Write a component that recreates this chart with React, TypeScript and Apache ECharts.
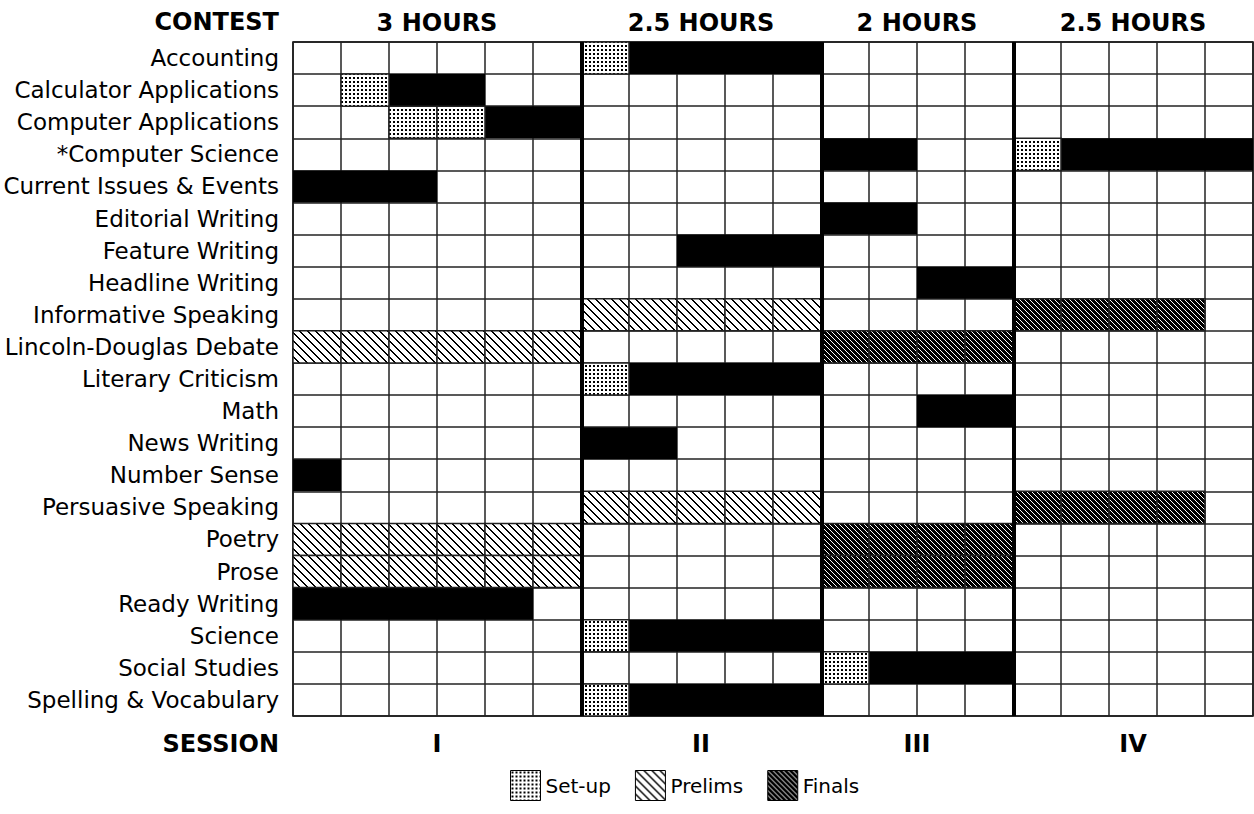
import React, { useEffect, useRef } from "react";
import * as echarts from "echarts";

const contests = [
  "Accounting",
  "Calculator Applications",
  "Computer Applications",
  "*Computer Science",
  "Current Issues & Events",
  "Editorial Writing",
  "Feature Writing",
  "Headline Writing",
  "Informative Speaking",
  "Lincoln-Douglas Debate",
  "Literary Criticism",
  "Math",
  "News Writing",
  "Number Sense",
  "Persuasive Speaking",
  "Poetry",
  "Prose",
  "Ready Writing",
  "Science",
  "Social Studies",
  "Spelling & Vocabulary",
];

const sessionNames = ["I", "II", "III", "IV"];
const sessionHours = ["3 HOURS", "2.5 HOURS", "2 HOURS", "2.5 HOURS"];
const sessionSlots = [6, 5, 4, 5];

// [contest, startSlot, endSlot)
const setupBlocks: [string, number, number][] = [
  ["Accounting", 6, 7],
  ["Calculator Applications", 1, 2],
  ["Computer Applications", 2, 4],
  ["*Computer Science", 15, 16],
  ["Literary Criticism", 6, 7],
  ["Science", 6, 7],
  ["Social Studies", 11, 12],
  ["Spelling & Vocabulary", 6, 7],
];

const contestBlocks: [string, number, number][] = [
  ["Accounting", 7, 11],
  ["Calculator Applications", 2, 4],
  ["Computer Applications", 4, 6],
  ["*Computer Science", 11, 13],
  ["*Computer Science", 16, 20],
  ["Current Issues & Events", 0, 3],
  ["Editorial Writing", 11, 13],
  ["Feature Writing", 8, 11],
  ["Headline Writing", 13, 15],
  ["Literary Criticism", 7, 11],
  ["Math", 13, 15],
  ["News Writing", 6, 8],
  ["Number Sense", 0, 1],
  ["Ready Writing", 0, 5],
  ["Science", 7, 11],
  ["Social Studies", 12, 15],
  ["Spelling & Vocabulary", 7, 11],
];

const prelimBlocks: [string, number, number][] = [
  ["Informative Speaking", 6, 11],
  ["Lincoln-Douglas Debate", 0, 6],
  ["Persuasive Speaking", 6, 11],
  ["Poetry", 0, 6],
  ["Prose", 0, 6],
];

const finalBlocks: [string, number, number][] = [
  ["Informative Speaking", 15, 19],
  ["Lincoln-Douglas Debate", 11, 15],
  ["Persuasive Speaking", 15, 19],
  ["Poetry", 11, 15],
  ["Prose", 11, 15],
];

const FONT = "'DejaVu Sans', 'Open Sans', sans-serif";

function makeTile(kind: string) {
  const size = kind === "setup" ? [4, 4] : kind === "prelims" ? [8, 8] : [5, 5];
  const c = document.createElement("canvas");
  c.width = size[0];
  c.height = size[1];
  const ctx = c.getContext("2d")!;
  ctx.fillStyle = "#fff";
  ctx.fillRect(0, 0, c.width, c.height);
  ctx.fillStyle = "#000";
  for (let y = 0; y < c.height; y++) {
    for (let x = 0; x < c.width; x++) {
      let on = false;
      if (kind === "setup") on = x >= 1 && x < 3 && y >= 1 && y < 3;
      else if (kind === "prelims") {
        const d = (((x - y) % 8) + 8) % 8;
        on = d === 0 || d === 1;
      } else {
        const d = (((x - y) % 5) + 5) % 5;
        on = d !== 0;
      }
      if (on) ctx.fillRect(x, y, 1, 1);
    }
  }
  return {
    image: c,
    repeat: "repeat",
    imageWidth: c.width,
    imageHeight: c.height,
  } as any;
}

function toData(blocks: [string, number, number][]) {
  return blocks.map((b) => [b[1], b[2], b[0]]);
}

export default function App() {
  const ref = useRef<HTMLDivElement>(null);
  useEffect(() => {
    if (!ref.current) return;
    const chart = echarts.init(ref.current, undefined, { renderer: "svg" });

    const setupFill = makeTile("setup");
    const prelimFill = makeTile("prelims");
    const finalFill = makeTile("finals");

    const blockRender = (fill: any, cells: boolean) => (params: any, api: any) => {
      const s = api.value(0);
      const e = api.value(1);
      const c = api.value(2);
      const h = api.size([0, 1])[1];
      const children: any[] = [];
      if (cells) {
        for (let k = s; k < e; k++) {
          const a = api.coord([k, c]);
          const b = api.coord([k + 1, c]);
          children.push({
            type: "rect",
            shape: { x: a[0], y: a[1] - h / 2, width: b[0] - a[0], height: h },
            style: { fill, stroke: "#222", lineWidth: 1.5 },
          });
        }
      } else {
        const a = api.coord([s, c]);
        const b = api.coord([e, c]);
        children.push({
          type: "rect",
          shape: { x: a[0], y: a[1] - h / 2, width: b[0] - a[0], height: h },
          style: { fill: "#000" },
        });
      }
      return { type: "group", children };
    };

    const bounds: number[][] = [];
    const mids: number[][] = [];
    let acc = 0;
    sessionSlots.forEach((n, i) => {
      mids.push([acc + n / 2, 0]);
      acc += n;
      if (i < sessionSlots.length - 1) bounds.push([acc, 0]);
    });

    const totalSlots = acc;

    chart.setOption({
      animation: false,
      backgroundColor: "#fff",
      grid: {
        left: 293,
        top: 42,
        width: 960,
        height: 674,
        show: true,
        borderColor: "#000",
        borderWidth: 1.5,
        backgroundColor: "#fff",
      },
      xAxis: {
        type: "value",
        min: 0,
        max: totalSlots,
        interval: 1,
        axisLabel: { show: false },
        axisTick: { show: false },
        axisLine: { show: false },
        splitLine: { show: true, lineStyle: { color: "#222", width: 1.5 } },
      },
      yAxis: {
        type: "category",
        inverse: true,
        data: contests,
        axisTick: { show: false },
        axisLine: { show: false },
        splitLine: { show: true, interval: 0, lineStyle: { color: "#222", width: 1.5 } },
        axisLabel: {
          interval: 0,
          margin: 14,
          fontSize: 23,
          color: "#000",
          fontFamily: FONT,
        },
      },
      legend: {
        data: ["Set-up", "Prelims", "Finals"],
        left: 510,
        top: 770,
        padding: 0,
        itemWidth: 30,
        itemHeight: 30,
        itemGap: 24,
        icon: "rect",
        selectedMode: false,
        itemStyle: { borderColor: "#000", borderWidth: 1 },
        textStyle: { fontSize: 20, fontFamily: FONT, color: "#000" },
      },
      graphic: [
        {
          type: "text",
          x: 279,
          y: 22,
          style: {
            text: "CONTEST",
            align: "right",
            verticalAlign: "middle",
            fontSize: 24,
            fontWeight: "bold",
            fontFamily: FONT,
            fill: "#000",
          },
        },
        {
          type: "text",
          x: 279,
          y: 744,
          style: {
            text: "SESSION",
            align: "right",
            verticalAlign: "middle",
            fontSize: 24,
            fontWeight: "bold",
            fontFamily: FONT,
            fill: "#000",
          },
        },
      ],
      series: [
        {
          type: "custom",
          name: "Contest",
          data: toData(contestBlocks),
          encode: { x: [0, 1], y: 2 },
          itemStyle: { color: "#000" },
          renderItem: blockRender("#000", false),
          z: 2,
        },
        {
          type: "custom",
          name: "Set-up",
          data: toData(setupBlocks),
          encode: { x: [0, 1], y: 2 },
          itemStyle: { color: setupFill },
          renderItem: blockRender(setupFill, true),
          z: 2,
        },
        {
          type: "custom",
          name: "Prelims",
          data: toData(prelimBlocks),
          encode: { x: [0, 1], y: 2 },
          itemStyle: { color: prelimFill },
          renderItem: blockRender(prelimFill, true),
          z: 2,
        },
        {
          type: "custom",
          name: "Finals",
          data: toData(finalBlocks),
          encode: { x: [0, 1], y: 2 },
          itemStyle: { color: finalFill },
          renderItem: blockRender(finalFill, true),
          z: 2,
        },
        {
          type: "custom",
          name: "Sessions",
          data: bounds,
          encode: { x: 0, y: 1 },
          silent: true,
          z: 5,
          renderItem: (params: any, api: any) => {
            const x = api.coord([api.value(0), 0])[0];
            const cs = params.coordSys;
            return {
              type: "line",
              shape: { x1: x + 1, y1: cs.y, x2: x + 1, y2: cs.y + cs.height },
              style: { stroke: "#000", lineWidth: 4 },
            };
          },
        },
        {
          type: "custom",
          name: "SessionLabels",
          data: mids,
          encode: { x: 0, y: 1 },
          silent: true,
          z: 5,
          renderItem: (params: any, api: any) => {
            const x = api.coord([api.value(0), 0])[0];
            const cs = params.coordSys;
            const i = params.dataIndex;
            return {
              type: "group",
              children: [
                {
                  type: "text",
                  x,
                  y: cs.y - 19,
                  style: {
                    text: sessionHours[i],
                    align: "center",
                    verticalAlign: "middle",
                    fontSize: 24,
                    fontWeight: "bold",
                    fontFamily: FONT,
                    fill: "#000",
                  },
                },
                {
                  type: "text",
                  x,
                  y: cs.y + cs.height + 28,
                  style: {
                    text: sessionNames[i],
                    align: "center",
                    verticalAlign: "middle",
                    fontSize: 24,
                    fontWeight: "bold",
                    fontFamily: FONT,
                    fill: "#000",
                  },
                },
              ],
            };
          },
        },
      ],
    });

    return () => chart.dispose();
  }, []);

  return (
    <div
      ref={ref}
      style={{ position: "fixed", left: 0, top: 0, width: 1254, height: 814, background: "#fff" }}
    />
  );
}
